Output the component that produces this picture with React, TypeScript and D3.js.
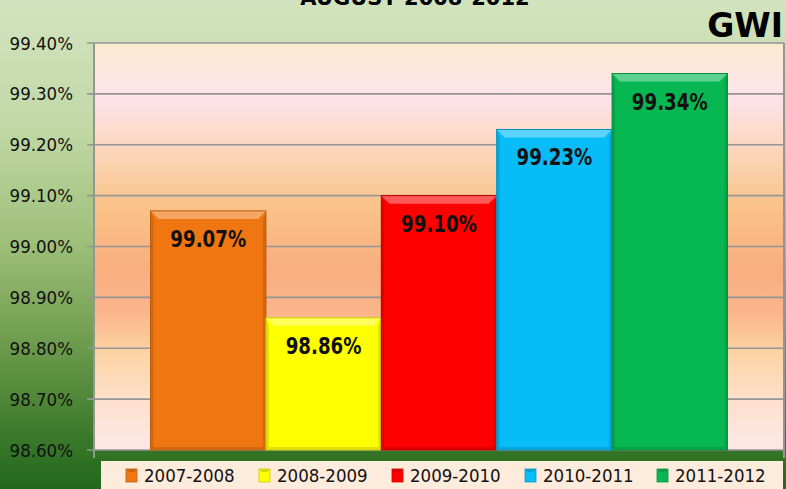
import React from "react";
import * as d3 from "d3";

const category = "AUGUST 2008-2012";
const series = ["2007-2008", "2008-2009", "2009-2010", "2010-2011", "2011-2012"];
const values = [99.07, 98.86, 99.1, 99.23, 99.34];
const colors = ["#F07612", "#FFFF00", "#FF0000", "#07BCF7", "#07B852"];
const yTicks = [98.6, 98.7, 98.8, 98.9, 99.0, 99.1, 99.2, 99.3, 99.4];

const W = 786;
const H = 489;
const plotLeft = 94;
const plotRight = 784;
const plotTop = 43;
const plotBottom = 450;

export default function App() {
  const y = d3.scaleLinear().domain([98.6, 99.4]).range([plotBottom, plotTop]);
  const x0 = d3
    .scaleBand<string>()
    .domain([category])
    .range([plotLeft, plotRight])
    .paddingOuter(0.098);
  const x1 = d3
    .scaleBand<string>()
    .domain(series)
    .range([x0(category)!, x0(category)! + x0.bandwidth()])
    .padding(0);

  const fmt = (v: number) => v.toFixed(2) + "%";

  const legendX = [126, 259, 392, 525, 657];

  return (
    <div style={{ position: "absolute", left: 0, top: 0 }}>
      <svg width={W} height={H} style={{ display: "block" }}>
        <defs>
          <linearGradient id="outerBg" x1="0" y1="0" x2="0" y2="1">
            <stop offset="0" stopColor="#D2E3BF" />
            <stop offset="0.25" stopColor="#C3D9A8" />
            <stop offset="0.5" stopColor="#9DBF78" />
            <stop offset="0.7" stopColor="#6E9C4E" />
            <stop offset="0.88" stopColor="#3E7B2C" />
            <stop offset="1" stopColor="#21681C" />
          </linearGradient>
          <linearGradient id="plotBg" x1="0" y1="0" x2="0" y2="1">
            <stop offset="0" stopColor="#FCEACE" />
            <stop offset="0.13" stopColor="#FDE4EC" />
            <stop offset="0.3" stopColor="#FAD2AE" />
            <stop offset="0.4" stopColor="#FAC388" />
            <stop offset="0.55" stopColor="#F9AE80" />
            <stop offset="0.66" stopColor="#FBB48C" />
            <stop offset="0.76" stopColor="#FCD3A2" />
            <stop offset="0.88" stopColor="#FDE1CD" />
            <stop offset="1" stopColor="#FEE7E8" />
          </linearGradient>
        </defs>
        <rect x={0} y={0} width={W} height={H} fill="url(#outerBg)" />
        <rect
          x={plotLeft}
          y={plotTop}
          width={plotRight - plotLeft}
          height={plotBottom - plotTop}
          fill="url(#plotBg)"
        />
        {yTicks.map((t) => (
          <line
            key={"g" + t}
            x1={plotLeft - 7}
            x2={plotRight}
            y1={y(t)}
            y2={y(t)}
            stroke="#959595"
            strokeWidth={1.6}
          />
        ))}
        <line x1={plotLeft} x2={plotLeft} y1={plotTop} y2={plotBottom + 8} stroke="#959595" strokeWidth={2} />
        <line x1={plotRight} x2={plotRight} y1={plotTop} y2={plotBottom + 8} stroke="#959595" strokeWidth={2} />
        {yTicks.map((t) => (
          <text
            key={"t" + t}
            x={73}
            y={y(t) + 6.5}
            textAnchor="end"
            fontFamily="DejaVu Sans Condensed, DejaVu Sans"
            fontSize={18.5}
            fill="#111"
          >
            {fmt(t)}
          </text>
        ))}
        {series.map((s, i) => {
          const bx = x1(s)!;
          const bw = x1.bandwidth();
          const by = y(values[i]);
          const bh = plotBottom - by;
          const c = d3.color(colors[i])!;
          const light = d3.interpolateRgb(colors[i], "#ffffff")(0.35);
          const dark = c.darker(0.35).toString();
          const darker = c.darker(0.7).toString();
          const b = 8;
          const sd = 3;
          return (
            <g key={s}>
              <rect x={bx} y={by} width={bw} height={bh} fill={colors[i]} />
              <polygon
                points={`${bx},${by} ${bx + bw},${by} ${bx + bw - b},${by + b} ${bx + b},${by + b}`}
                fill={light}
              />
              <polygon
                points={`${bx},${by} ${bx + sd},${by + b} ${bx + sd},${plotBottom - sd} ${bx},${plotBottom}`}
                fill={dark}
              />
              <polygon
                points={`${bx + bw},${by} ${bx + bw - sd},${by + b} ${bx + bw - sd},${plotBottom - sd} ${bx + bw},${plotBottom}`}
                fill={dark}
              />
              <polygon
                points={`${bx},${plotBottom} ${bx + sd},${plotBottom - sd} ${bx + bw - sd},${plotBottom - sd} ${bx + bw},${plotBottom}`}
                fill={dark}
              />
              <rect x={bx} y={by} width={bw} height={bh} fill="none" stroke={darker} strokeWidth={1} />
              <text
                transform={`translate(${bx + bw / 2},${by + 36}) scale(0.88,1)`}
                textAnchor="middle"
                fontFamily="DejaVu Sans Condensed, DejaVu Sans"
                fontWeight="bold"
                fontSize={23}
                fill="#111"
              >
                {fmt(values[i])}
              </text>
            </g>
          );
        })}
        <text
          x={415}
          y={5}
          textAnchor="middle"
          fontFamily="DejaVu Sans"
          fontWeight="bold"
          fontSize={21}
          fill="#000"
        >
          {category}
        </text>
        <text
          x={783}
          y={37}
          textAnchor="end"
          fontFamily="DejaVu Sans"
          fontWeight="bold"
          fontSize={33}
          fill="#000"
        >
          GWI
        </text>
        <rect x={101} y={461} width={682} height={28} fill="#FDEBDC" />
        {series.map((s, i) => {
          const lx = legendX[i];
          const ly = 469;
          const c = d3.color(colors[i])!;
          return (
            <g key={"l" + s}>
              <rect x={lx} y={ly} width={11} height={13} fill={colors[i]} stroke={c.darker(0.6).toString()} strokeWidth={0.8} />
              <polygon
                points={`${lx},${ly} ${lx + 11},${ly} ${lx + 8},${ly + 3} ${lx + 3},${ly + 3}`}
                fill={c.darker(0.5).toString()}
              />
              <text
                x={lx + 18}
                y={ly + 12.5}
                fontFamily="DejaVu Sans Condensed, DejaVu Sans"
                fontSize={18.5}
                fill="#111"
              >
                {s}
              </text>
            </g>
          );
        })}
      </svg>
    </div>
  );
}
